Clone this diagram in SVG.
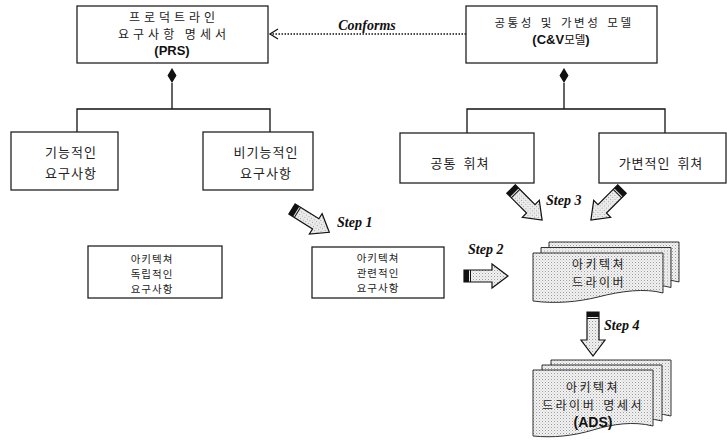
<svg xmlns="http://www.w3.org/2000/svg" xmlns:xlink="http://www.w3.org/1999/xlink" width="727" height="448" viewBox="0 0 727 448">
<style>
.box{fill:#fff;stroke:#222;stroke-width:1.3}
.kr{font-family:"Noto Sans CJK KR","Noto Sans",sans-serif;fill:#222;text-anchor:middle}
.k13{font-size:13px;letter-spacing:1px;word-spacing:3px}
.kd{font-size:12px;letter-spacing:2.5px;word-spacing:2px}
.kp{font-size:12px;letter-spacing:4px;word-spacing:0px}
.k12{font-size:11.5px;letter-spacing:2.5px;word-spacing:2px}
.k10{font-size:10.5px;letter-spacing:1px}
.b{font-family:"Liberation Sans",Arial,sans-serif;font-weight:bold;fill:#111;text-anchor:middle}
.step{font-family:"Liberation Serif","Times New Roman",serif;font-weight:bold;font-style:italic;font-size:14px;fill:#111}
.ln{stroke:#111;stroke-width:1.3;fill:none}
.arr{fill:url(#dots);stroke:#111;stroke-width:1.2}
.page{fill:url(#dots);stroke:#333;stroke-width:1}
</style>
<defs>
<pattern id="dots" width="3" height="3" patternUnits="userSpaceOnUse">
<rect width="3" height="3" fill="#f2f2f2"/>
<rect x="0" y="0" width="1" height="1" fill="#9a9a9a"/>
<rect x="1.5" y="1.5" width="1" height="1" fill="#c4c4c4"/>
</pattern>
<g id="fat">
<path class="arr" d="M0,-6 H28 V-12 L44,0 L28,12 V6 H0 Z"/>
<rect x="0" y="-6" width="5" height="12" fill="#111"/>
<line x1="6.5" y1="-6" x2="6.5" y2="6" stroke="#111" stroke-width="1"/>
</g>
<path id="page1" class="page" d="M0,0 H130 V40 C112,35 88,38 65,44 C45,49 22,51 0,48 Z"/>
<path id="page2" class="page" d="M0,0 H120 V56 C100,51 80,54 60,60 C40,66 20,68 0,66 Z"/>
<marker id="open" markerWidth="12" markerHeight="12" refX="10" refY="6" orient="auto" markerUnits="userSpaceOnUse">
<path d="M2,1 L10,6 L2,11" fill="none" stroke="#111" stroke-width="1.3"/>
</marker>
</defs>
<rect width="727" height="448" fill="#fff"/>

<g id="connectors">
<line class="ln" x1="466" y1="34" x2="270" y2="34" stroke-dasharray="1.5,1.5" marker-end="url(#open)"/>
<text class="step" x="367" y="30" text-anchor="middle">Conforms</text>
<path d="M172,68 L176.5,75.5 L172,83 L167.5,75.5 Z" fill="#111"/>
<polyline class="ln" points="172,83 172,109"/>
<polyline class="ln" points="77,132 77,109 270,109 270,132"/>
<path d="M564,68 L568.5,75.5 L564,83 L559.5,75.5 Z" fill="#111"/>
<polyline class="ln" points="564,83 564,109"/>
<polyline class="ln" points="467,133 467,109 665,109 665,133"/>
<use xlink:href="#fat" transform="translate(292,209) rotate(32)"/>
<text class="step" x="337" y="227">Step 1</text>
<use xlink:href="#fat" transform="translate(511,189) rotate(45)"/>
<use xlink:href="#fat" transform="translate(622,189) rotate(135)"/>
<text class="step" x="546" y="205">Step 3</text>
<use xlink:href="#fat" transform="translate(464,276)"/>
<text class="step" x="468" y="254">Step 2</text>
<use xlink:href="#fat" transform="translate(593,312) rotate(90)"/>
<text class="step" x="604" y="330">Step 4</text>
</g>

<g id="prs">
<rect class="box" x="77" y="6" width="191" height="57"/>
<text class="kr kp" x="174" y="22">프로덕트라인</text>
<text class="kr kp" x="174" y="38.5">요구사항 명세서</text>
<text class="b" x="172" y="55" font-size="13">(PRS)</text>
</g>

<g id="cv">
<rect class="box" x="466" y="6" width="191" height="57"/>
<text class="kr k12" x="564" y="27">공통성 및 가변성 모델</text>
<text class="b" x="561" y="44" font-size="13">(C&amp;V<tspan font-family="Noto Sans CJK KR" font-weight="normal" font-size="11.5">모델</tspan>)</text>
</g>

<g id="func">
<rect class="box" x="11" y="132" width="107" height="58"/>
<text class="kr k13" x="71" y="157">기능적인</text>
<text class="kr k13" x="71" y="178">요구사항</text>
</g>

<g id="nonfunc">
<rect class="box" x="203" y="132" width="110" height="58"/>
<text class="kr k13" x="266" y="157">비기능적인</text>
<text class="kr k13" x="266" y="178">요구사항</text>
</g>

<g id="common">
<rect class="box" x="400" y="133" width="134" height="50"/>
<text class="kr k13" x="460" y="168">공통 휘쳐</text>
</g>

<g id="variable">
<rect class="box" x="599" y="133" width="127" height="50"/>
<text class="kr k13" x="661" y="168" letter-spacing="2.2">가변적인 휘쳐</text>
</g>

<g id="indep">
<rect class="box" x="88" y="246" width="134" height="52"/>
<text class="kr k10" x="152" y="263">아키텍쳐</text>
<text class="kr k10" x="152" y="278">독립적인</text>
<text class="kr k10" x="152" y="293">요구사항</text>
</g>

<g id="related">
<rect class="box" x="312" y="247" width="132" height="51"/>
<text class="kr k10" x="378" y="262">아키텍쳐</text>
<text class="kr k10" x="378" y="277">관련적인</text>
<text class="kr k10" x="378" y="292">요구사항</text>
</g>

<g id="driver">
<use xlink:href="#page1" transform="translate(549,242)"/>
<use xlink:href="#page1" transform="translate(541,247.5)"/>
<use xlink:href="#page1" transform="translate(533,253)"/>
<text class="kr kd" x="599" y="269">아키텍쳐</text>
<text class="kr kd" x="599" y="287">드라이버</text>
</g>

<g id="ads">
<use xlink:href="#page2" transform="translate(551,360)"/>
<use xlink:href="#page2" transform="translate(542,365)"/>
<use xlink:href="#page2" transform="translate(533,370)"/>
<text class="kr kd" x="593" y="392">아키텍쳐</text>
<text class="kr kd" x="593" y="410">드라이버 명세서</text>
<text class="b" x="593" y="427" font-size="14">(ADS)</text>
</g>
</svg>
